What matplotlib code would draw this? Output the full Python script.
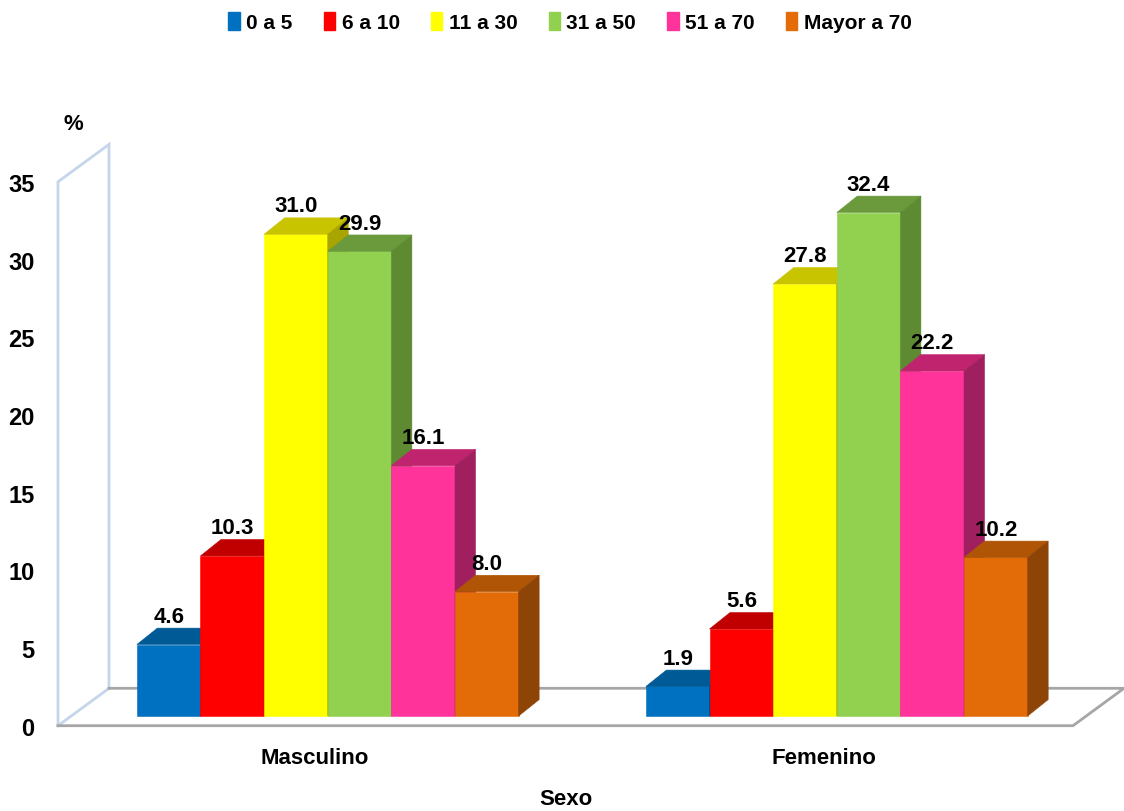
import matplotlib
matplotlib.use("Agg")
import matplotlib.pyplot as plt
from matplotlib.patches import Polygon, Patch
from matplotlib import font_manager
import numpy as np

# ---- data ----
categories = ["Masculino", "Femenino"]
groups = ["0 a 5", "6 a 10", "11 a 30", "31 a 50", "51 a 70", "Mayor a 70"]
masculino = [4.6, 10.3, 31.0, 29.9, 16.1, 8.0]
femenino = [1.9, 5.6, 27.8, 32.4, 22.2, 10.2]
y_ticks = [0, 5, 10, 15, 20, 25, 30, 35]

# ---- styling ----
front_colors = ["#0070C0", "#FF0000", "#FFFF00", "#92D050", "#FF3399", "#E36C09"]
top_colors = ["#005A96", "#C00000", "#C8C400", "#6A9A3C", "#C0246F", "#B05505"]
side_colors = ["#004A7E", "#A00000", "#A8A400", "#5E8A32", "#A0205F", "#8E4406"]

avail = {f.name for f in font_manager.fontManager.ttflist}
fam = [f for f in ["Liberation Sans Narrow", "Liberation Sans", "DejaVu Sans"] if f in avail]
plt.rcParams["font.family"] = fam
plt.rcParams["font.weight"] = "bold"

W, H = 1124, 812
fig = plt.figure(figsize=(W / 100, H / 100), dpi=100)

# front plane of the chart box, in pixels
x_left, x_right = 58, 1073
y_zero, y_top = 726.7, 182.8          # image rows of 0 and 35
ax = fig.add_axes([x_left / W, (H - y_zero) / H,
                   (x_right - x_left) / W, (y_zero - y_top) / H])
ax.set_ylim(0, 35)
ax.set_xlim(-0.504, 1.490)
for s in ax.spines.values():
    s.set_visible(False)
ax.patch.set_visible(False)

# pixel -> data conversion factors
px_x = (1.490 + 0.504) / (x_right - x_left)
px_y = 35 / (y_zero - y_top)

floor_dx, floor_dy = 51 * px_x, 37.4 * px_y     # full depth of the box
bar_off_x, bar_off_y = 13.2 * px_x, 9.7 * px_y  # bars sit inside the depth
bar_dx, bar_dy = 20.5 * px_x, 16.4 * px_y       # bar depth

xmin, xmax = ax.get_xlim()
wall_col = "#C5D5EA"
floor_col = "#A6A6A6"
# left wall outline
ax.plot([xmin, xmin, xmin + floor_dx, xmin + floor_dx],
        [0, 35, 35 + floor_dy, floor_dy], color=wall_col, lw=2, clip_on=False,
        solid_joinstyle="miter")
ax.plot([xmin, xmin + floor_dx], [0, floor_dy], color=wall_col, lw=2, clip_on=False)
# floor outline
ax.plot([xmin + floor_dx, xmax + floor_dx, xmax, xmin],
        [floor_dy, floor_dy, 0, 0], color=floor_col, lw=2, clip_on=False,
        solid_joinstyle="miter")

# bars
n = len(groups)
width = 0.125
centers = np.arange(len(categories))
values = np.array([masculino, femenino])
for gi, c in enumerate(centers):
    for i in range(n):
        v = values[gi, i]
        x0 = c - width * n / 2 + i * width + bar_off_x
        x1 = x0 + width
        y0 = bar_off_y
        y1 = bar_off_y + v
        ax.bar(x0, v, width=width, bottom=y0, align="edge",
               color=front_colors[i], edgecolor=front_colors[i], lw=0.4,
               clip_on=False, zorder=3)
        top = Polygon([(x0, y1), (x1, y1), (x1 + bar_dx, y1 + bar_dy),
                       (x0 + bar_dx, y1 + bar_dy)], closed=True,
                      facecolor=top_colors[i], edgecolor=top_colors[i], lw=0.4,
                      clip_on=False, zorder=3)
        side = Polygon([(x1, y0), (x1 + bar_dx, y0 + bar_dy),
                        (x1 + bar_dx, y1 + bar_dy), (x1, y1)], closed=True,
                       facecolor=side_colors[i], edgecolor=side_colors[i], lw=0.4,
                       clip_on=False, zorder=3)
        ax.add_patch(top)
        ax.add_patch(side)
        ax.annotate(f"{v:.1f}", xy=((x0 + x1) / 2, y1 + bar_dy),
                    xytext=(0, 1), textcoords="offset points",
                    ha="center", va="bottom", fontsize=16, fontweight="bold",
                    zorder=5, annotation_clip=False)

# axes labels and ticks
ax.set_yticks(y_ticks)
ax.set_yticklabels([str(t) for t in y_ticks], fontsize=17, fontweight="bold")
ax.tick_params(axis="y", length=0, pad=17)
ax.set_xticks(centers)
ax.set_xticklabels(categories, fontsize=16, fontweight="bold")
ax.tick_params(axis="x", length=0, pad=15)
ax.set_xlabel("Sexo", fontsize=16, fontweight="bold", labelpad=15)
fig.text(73 / W, 1 - 124 / H, "%", ha="center", va="center",
         fontsize=16, fontweight="bold")

handles = [Patch(facecolor=c, edgecolor=c) for c in front_colors]
fig.legend(handles, groups, loc="center", bbox_to_anchor=(570 / W, 1 - 23 / H),
           ncol=n, frameon=False, prop={"weight": "bold", "size": 15},
           handlelength=0.55, handleheight=1.0, handletextpad=0.3,
           columnspacing=1.5)

fig.savefig("out.png", dpi=100)
